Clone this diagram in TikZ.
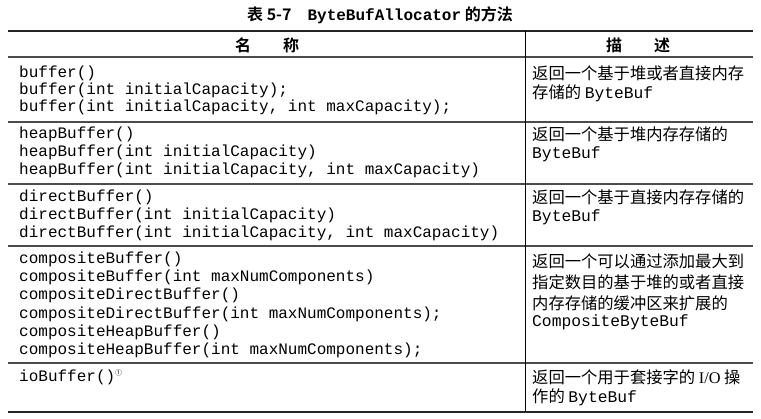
\documentclass[tikz,border=0pt]{standalone}
\usepackage{fontspec}
\setmainfont{Liberation Serif}
\setmonofont{Liberation Mono}
\newfontfamily\cjk{Noto Sans CJK SC}
\newfontfamily\cjkb{Noto Sans CJK SC Bold}
\begin{document}
\begin{tikzpicture}[x=1pt,y=-1pt,
  code/.style={anchor=west,inner sep=0pt,font=\fontsize{16}{16}\ttfamily},
  desc/.style={anchor=west,inner sep=0pt,font=\fontsize{16.3}{16}\cjk},
  head/.style={inner sep=0pt,font=\fontsize{16}{16}\cjkb},
  rule/.style={line width=1.6pt,black!85},
  sep/.style={line width=1.1pt,black!70}]
\useasboundingbox (0,0) rectangle (761,419);
\node[head] (cap) at (380,15) {表 5-7\quad{\fontsize{16}{16}\bfseries\ttfamily ByteBufAllocator} 的方法};
\coordinate (tl) at (8,31); \coordinate (tr) at (753,31);
\draw[rule] (tl) -- (tr);
\node[head] (h1) at (267,45) {名\qquad 称};
\node[head] (h2) at (638,45) {描\qquad 述};
\draw[sep] (8,57) -- (753,57);
\draw[sep] (8,122) -- (753,122);
\draw[sep] (8,184) -- (753,184);
\draw[sep] (8,246) -- (753,246);
\draw[sep] (8,363) -- (753,363);
\draw[rule] (8,412) -- (753,412);
\draw[line width=0.6pt] (525,31) -- (525,412);
% row 1
\node[code] (a1) at (19,73) {buffer()};
\node[code] (a2) at (19,90) {buffer(int initialCapacity);};
\node[code] (a3) at (19,107) {buffer(int initialCapacity, int maxCapacity);};
\node[desc] (d1) at (532,73) {返回一个基于堆或者直接内存};
\node[desc] (d1b) at (532,93) {存储的 {\ttfamily ByteBuf}};
% row 2
\node[code] (b1) at (19,134) {heapBuffer()};
\node[code] (b2) at (19,152) {heapBuffer(int initialCapacity)};
\node[code] (b3) at (19,170) {heapBuffer(int initialCapacity, int maxCapacity)};
\node[desc] (d2) at (532,134) {返回一个基于堆内存存储的};
\node[desc] (d2b) at (532,154) {\ttfamily ByteBuf};
% row 3
\node[code] (c1) at (19,197) {directBuffer()};
\node[code] (c2) at (19,215) {directBuffer(int initialCapacity)};
\node[code] (c3) at (19,233) {directBuffer(int initialCapacity, int maxCapacity)};
\node[desc] (d3) at (532,197) {返回一个基于直接内存存储的};
\node[desc] (d3b) at (532,217) {\ttfamily ByteBuf};
% row 4
\node[code] (e1) at (19,259) {compositeBuffer()};
\node[code] (e2) at (19,277) {compositeBuffer(int maxNumComponents)};
\node[code] (e3) at (19,295) {compositeDirectBuffer()};
\node[code] (e4) at (19,314) {compositeDirectBuffer(int maxNumComponents);};
\node[code] (e5) at (19,332) {compositeHeapBuffer()};
\node[code] (e6) at (19,350) {compositeHeapBuffer(int maxNumComponents);};
\node[desc] (d4) at (532,261) {返回一个可以通过添加最大到};
\node[desc] (d4b) at (532,282) {指定数目的基于堆的或者直接};
\node[desc] (d4c) at (532,303) {内存存储的缓冲区来扩展的};
\node[desc] (d4d) at (532,322) {\ttfamily CompositeByteBuf};
% row 5
\node[code] (f1) at (19,377) {ioBuffer()\raisebox{6pt}{\fontsize{7}{7}\selectfont\cjk ①}};
\node[desc] (d5) at (532,377) {返回一个用于套接字的 {\rmfamily I/O} 操};
\node[desc] (d5b) at (532,397) {作的 {\ttfamily ByteBuf}};
\end{tikzpicture}
\end{document}
